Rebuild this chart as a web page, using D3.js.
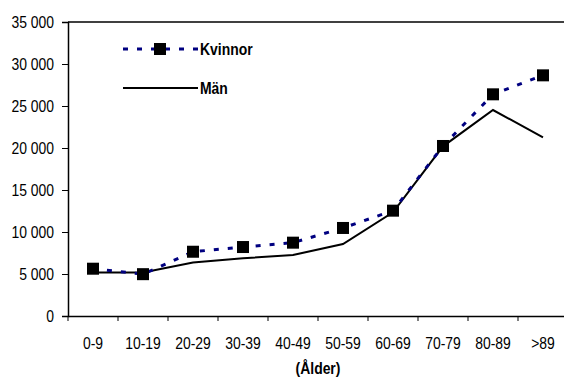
<!DOCTYPE html>
<html><head><meta charset="utf-8">
<script src="https://cdn.jsdelivr.net/npm/d3@7"></script>
<style>
body{margin:0;background:#fff;}
svg{display:block;font-family:"Liberation Sans",Arial,sans-serif;}
</style></head>
<body>
<svg id="c" width="564" height="378"></svg>
<script>
const categories = ["0-9","10-19","20-29","30-39","40-49","50-59","60-69","70-79","80-89",">89"];
const kvinnor = [5630,4980,7650,8210,8730,10480,12540,20240,26390,28650];
const man = [5180,5180,6380,6870,7260,8570,12350,20200,24520,21270];
const yTicks = [0,5000,10000,15000,20000,25000,30000,35000];
const seriesNames = ["Kvinnor","Män"];
const xTitle = "(Ålder)";

const SX = 0.87; // horizontal squeeze to mimic a narrow font
const svg = d3.select("#c");
const L = 68, T = 22, B = 316, R = 568;
const x = d3.scaleBand().domain(categories).range([L, R]);
const y = d3.scaleLinear().domain([0,35000]).range([B, T]);
const fmt = v => d3.format(",")(v).replace(/,/g, "\u00a0");

function narrowText(g, px, py, str, anchor, bold) {
  return g.append("text")
    .attr("transform", `translate(${px},${py}) scale(${SX},1)`)
    .attr("text-anchor", anchor).attr("font-size", 16)
    .attr("font-weight", bold ? "bold" : "normal").attr("fill", "#000")
    .text(str);
}

// frame top line
svg.append("line").attr("x1",L).attr("x2",R).attr("y1",T).attr("y2",T).attr("stroke","#000").attr("stroke-width",1.3);

// y axis
const ya = svg.append("g").attr("transform",`translate(${L},0)`)
  .call(d3.axisLeft(y).tickValues(yTicks).tickFormat(fmt).tickSize(6).tickPadding(8));
ya.select(".domain").attr("stroke","#000").attr("stroke-width",1.5);
ya.selectAll(".tick line").attr("stroke","#000");
ya.selectAll("text").attr("font-size",16).attr("fill","#000").attr("font-family","inherit")
  .attr("x",0).attr("dy","0.36em").attr("transform",`translate(-14,0) scale(${SX},1)`);

// x axis
const xa = svg.append("g").attr("transform",`translate(0,${B})`)
  .call(d3.axisBottom(x).tickSize(0));
xa.select(".domain").attr("stroke","#000").attr("stroke-width",1.5);
xa.selectAll("text").attr("font-size",16).attr("fill","#000").attr("font-family","inherit")
  .attr("y",33).attr("dy",0).attr("transform",`scale(${SX},1)`);
// tick marks at category boundaries
svg.append("g").selectAll("line").data(categories).join("line")
  .attr("x1",d=>x(d)).attr("x2",d=>x(d)).attr("y1",B).attr("y2",B+5)
  .attr("stroke","#000").attr("stroke-width",1);

narrowText(svg, 318, 374, xTitle, "middle", true);

const cx = d => x(d) + x.bandwidth()/2;
const line = d3.line().x((d,i)=>cx(categories[i])).y(d=>y(d));

svg.append("path").datum(man).attr("d",line).attr("fill","none")
  .attr("stroke","#000").attr("stroke-width",2);
svg.append("path").datum(kvinnor).attr("d",line).attr("fill","none")
  .attr("stroke","#000080").attr("stroke-width",3).attr("stroke-dasharray","5,9");
svg.append("g").selectAll("rect").data(kvinnor).join("rect")
  .attr("x",(d,i)=>cx(categories[i])-6).attr("y",d=>y(d)-6)
  .attr("width",12).attr("height",12).attr("fill","#000");

// legend
const lg = svg.append("g");
lg.append("line").attr("x1",123).attr("x2",198).attr("y1",49).attr("y2",49)
  .attr("stroke","#000080").attr("stroke-width",3).attr("stroke-dasharray","5,9");
lg.append("rect").attr("x",154).attr("y",43).attr("width",12).attr("height",12).attr("fill","#000");
narrowText(lg, 200, 55, seriesNames[0], "start", true);
lg.append("line").attr("x1",123).attr("x2",198).attr("y1",88).attr("y2",88)
  .attr("stroke","#000").attr("stroke-width",2);
narrowText(lg, 200, 94, seriesNames[1], "start", true);
</script>
</body></html>
